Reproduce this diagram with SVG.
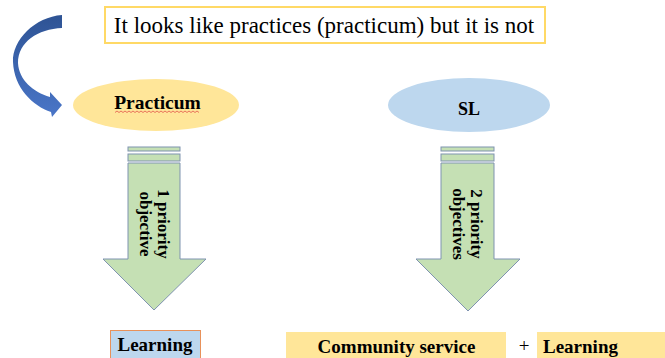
<svg xmlns="http://www.w3.org/2000/svg" width="665" height="358" viewBox="0 0 665 358">
<defs>
<linearGradient id="blueGrad" x1="0" y1="0" x2="0" y2="1">
<stop offset="0" stop-color="#2E5394"/>
<stop offset="1" stop-color="#4A76C8"/>
</linearGradient>
<style>
text{font-family:"Liberation Serif","Times New Roman",serif;fill:#000}
.b{font-weight:bold}
.arrow{fill:#C5E0B4;stroke:#7F93B0;stroke-width:1}
</style>
</defs>
<rect width="665" height="358" fill="#fff"/>

<g id="title">
<rect x="105" y="7" width="440" height="36" fill="#fff" stroke="#FFD966" stroke-width="2"/>
<text x="324" y="33" font-size="23" text-anchor="middle">It looks like practices (practicum) but it is not</text>
</g>

<g id="connectors">
<path d="M62,15 C35,17 12,40 13,62 C14,88 33,106 51,112 L52,117 L62,105 L50,92 L50,97 C33,92 19,80 18,63 C18,42 38,29 62,28 Z" fill="url(#blueGrad)"/>
</g>

<g id="practicum">
<ellipse cx="156" cy="105" rx="83" ry="26" fill="#FFE699"/>
<text class="b" x="157.5" y="109" font-size="19.5" text-anchor="middle">Practicum</text>
<path d="M115,112.5 l2,-1.5 l2,1.5 l2,-1.5 l2,1.5 l2,-1.5 l2,1.5 l2,-1.5 l2,1.5 l2,-1.5 l2,1.5 l2,-1.5 l2,1.5 l2,-1.5 l2,1.5 l2,-1.5 l2,1.5 l2,-1.5 l2,1.5 l2,-1.5 l2,1.5 l2,-1.5 l2,1.5 l2,-1.5 l2,1.5 l2,-1.5 l2,1.5 l2,-1.5 l2,1.5 l2,-1.5 l2,1.5 l2,-1.5 l2,1.5 l2,-1.5 l2,1.5 l2,-1.5 l2,1.5 l2,-1.5 l2,1.5 l2,-1.5 l2,1.5 l2,-1.5 l2,1.5" fill="none" stroke="#E04040" stroke-width="0.7"/>
</g>

<g id="sl">
<ellipse cx="469" cy="105" rx="81" ry="27" fill="#BDD7EE"/>
<text class="b" x="469" y="115" font-size="18" text-anchor="middle">SL</text>
</g>

<g id="arrow1">
<rect class="arrow" x="128" y="147" width="52" height="4"/>
<rect class="arrow" x="128" y="154" width="52" height="7"/>
<path class="arrow" d="M128,163 L180,163 L180,259 L206,259 L154,310 L103,259 L128,259 Z"/>
<g transform="translate(154,224) rotate(90)">
<text class="b" x="0" y="-3.5" font-size="17" text-anchor="middle">1 priority</text>
<text class="b" x="0" y="14.5" font-size="17" text-anchor="middle">objective</text>
</g>
</g>

<g id="arrow2">
<rect class="arrow" x="441" y="147" width="53" height="4"/>
<rect class="arrow" x="441" y="154" width="53" height="7"/>
<path class="arrow" d="M441,163 L494,163 L494,259 L520,259 L468,311 L416,259 L441,259 Z"/>
<g transform="translate(468,224) rotate(90)">
<text class="b" x="0" y="-2.5" font-size="17" text-anchor="middle">2 priority</text>
<text class="b" x="0" y="15.5" font-size="17" text-anchor="middle">objectives</text>
</g>
</g>

<g id="learning1">
<rect x="110.5" y="330.5" width="90" height="32" fill="#BDD7EE" stroke="#E8915A" stroke-width="1"/>
<text class="b" x="155" y="351" font-size="19" text-anchor="middle">Learning</text>
</g>

<g id="community">
<rect x="286" y="332" width="220" height="30" fill="#FFE699"/>
<text class="b" x="396.5" y="353" font-size="19" text-anchor="middle">Community service</text>
</g>

<g id="plus">
<text x="524" y="352" font-size="19" text-anchor="middle">+</text>
</g>

<g id="learning2">
<rect x="537" y="332" width="128" height="30" fill="#FFE699"/>
<text class="b" x="543" y="353" font-size="19">Learning</text>
</g>
</svg>
